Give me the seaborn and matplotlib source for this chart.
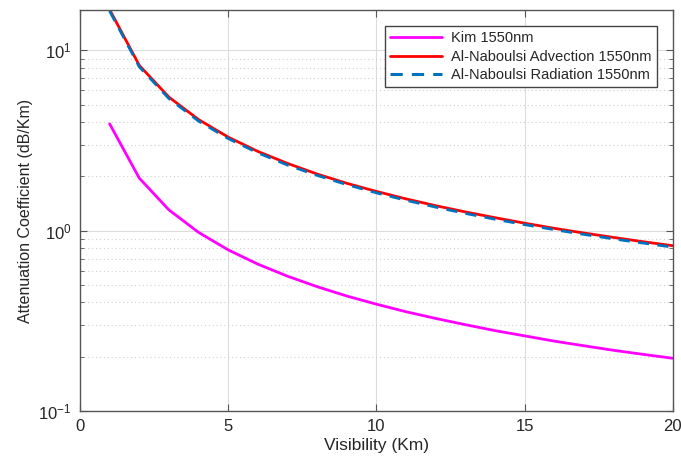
import matplotlib
matplotlib.use("Agg")
import matplotlib.pyplot as plt
import seaborn as sns
import pandas as pd
import numpy as np
from matplotlib.ticker import LogLocator, LogFormatterMathtext, NullFormatter

visibility = [1, 2, 3, 4, 5, 6, 7, 8, 9, 10, 11, 12, 13, 14, 15, 16, 17, 18, 19, 20]
kim = [3.91, 1.955, 1.303, 0.978, 0.782, 0.652, 0.559, 0.489, 0.434, 0.391,
       0.355, 0.326, 0.301, 0.279, 0.261, 0.244, 0.230, 0.217, 0.206, 0.196]
advection = [16.8, 8.25, 5.5, 4.13, 3.3, 2.75, 2.36, 2.06, 1.83, 1.65,
             1.50, 1.375, 1.27, 1.18, 1.10, 1.03, 0.97, 0.917, 0.868, 0.825]
radiation = [16.5, 8.1, 5.4, 4.05, 3.24, 2.70, 2.31, 2.025, 1.80, 1.62,
             1.473, 1.35, 1.246, 1.157, 1.08, 1.013, 0.953, 0.90, 0.853, 0.81]
series_names = ["Kim 1550nm", "Al-Naboulsi Advection 1550nm", "Al-Naboulsi Radiation 1550nm"]

df = pd.DataFrame({
    "V": visibility * 3,
    "att": kim + advection + radiation,
    "model": [series_names[0]] * len(kim) + [series_names[1]] * len(advection) + [series_names[2]] * len(radiation),
})

sns.set_style("white")
plt.rcParams["font.family"] = ["Liberation Sans", "DejaVu Sans"]
plt.rcParams["mathtext.fontset"] = "custom"
plt.rcParams["mathtext.rm"] = "Liberation Sans"
plt.rcParams["mathtext.it"] = "Liberation Sans"
plt.rcParams["axes.unicode_minus"] = False

fig = plt.figure(figsize=(6.81, 4.61), dpi=100)
ax = fig.add_axes([0.1175, 0.1085, 0.988 - 0.1175, 0.978 - 0.1085])

palette = {series_names[0]: "#FF00FF", series_names[1]: "#FF0000", series_names[2]: "#0072BD"}
dashes = {series_names[0]: "", series_names[1]: "", series_names[2]: (4, 3)}
sns.lineplot(data=df, x="V", y="att", hue="model", style="model", palette=palette,
             dashes=dashes, linewidth=2, ax=ax, legend=True)
for line in ax.get_lines():
    if line.get_label() == series_names[2]:
        line.set_zorder(2)
        line.set_linewidth(2.2)

ax.set_yscale("log")
ax.set_xlim(0, 20)
ax.set_ylim(0.1, 16.7)
ax.set_xticks([0, 5, 10, 15, 20])
ax.yaxis.set_major_locator(LogLocator(base=10, numticks=10))
ax.yaxis.set_major_formatter(LogFormatterMathtext())
ax.yaxis.set_minor_locator(LogLocator(base=10, subs=np.arange(2, 10), numticks=20))
ax.yaxis.set_minor_formatter(NullFormatter())

ax.grid(True, which="major", color="#DCDCDC", linewidth=0.8, linestyle="-")
ax.grid(True, which="minor", axis="y", color="#D0D0D0", linewidth=0.8, linestyle=(0, (1, 2.5)))
ax.set_axisbelow(True)

for s in ax.spines.values():
    s.set_color("#555555")
    s.set_linewidth(1.0)
ax.tick_params(which="both", direction="in", top=True, right=True, left=True, bottom=True,
               colors="#555555", labelcolor="#262626", labelsize=12)
ax.tick_params(axis="x", which="major", pad=6)
ax.tick_params(axis="y", which="major", pad=6)
ax.tick_params(which="major", length=5)
ax.tick_params(which="minor", length=3)

ax.set_xlabel("Visibility (Km)", fontsize=12.5, color="#262626", labelpad=3)
ax.set_ylabel("Attenuation Coefficient (dB/Km)", fontsize=11.5, color="#262626", labelpad=4)

leg = ax.legend(loc="upper right", fontsize=10.5, frameon=True, fancybox=False,
                edgecolor="#444444", framealpha=1, borderpad=0.35, handlelength=3.6,
                labelspacing=0.3, borderaxespad=1.1, handletextpad=0.6)
leg.get_frame().set_linewidth(1.0)

fig.savefig("out.png", dpi=100)
